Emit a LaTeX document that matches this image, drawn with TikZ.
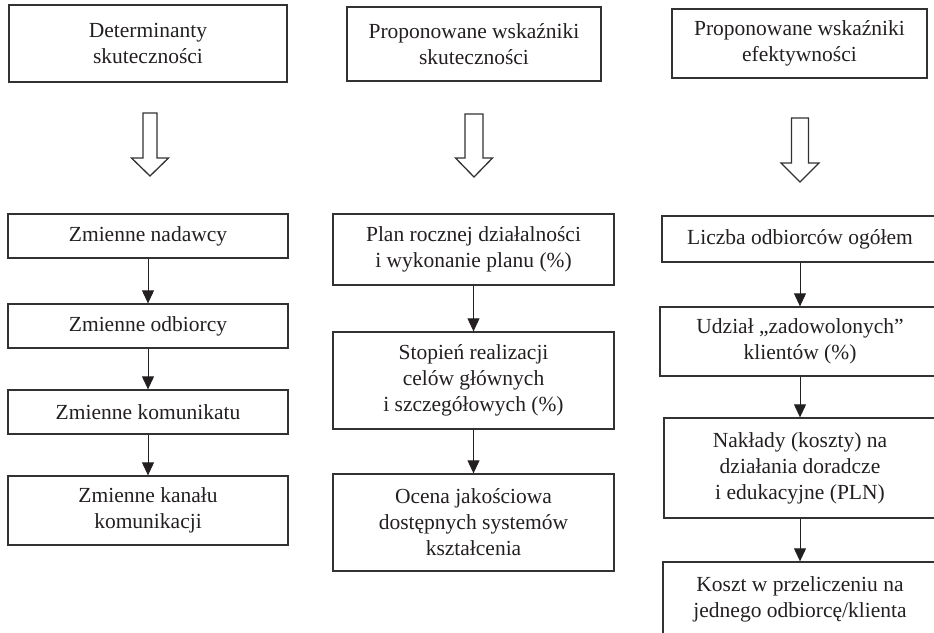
\documentclass[tikz,border=0pt]{standalone}
\usepackage{fontspec}
\setmainfont{Liberation Serif}
\usetikzlibrary{arrows.meta}
\definecolor{ink}{RGB}{35,31,32}
\definecolor{edge}{RGB}{50,50,50}
\newcommand{\hollowarr}[6]{%
  \draw[hollow] (#1-#3,#2) -- (#1+#3,#2) -- (#1+#3,#4) -- (#1+#5,#4) -- (#1,#6) -- (#1-#5,#4) -- (#1-#3,#4) -- cycle;}
\begin{document}
\begin{tikzpicture}[x=1pt,y=-1pt,
  box/.style={draw=edge, line width=1.3pt, rectangle, inner sep=0pt, align=center,
    text=ink, font=\fontsize{21.5}{26}\selectfont},
  link/.style={draw=ink, line width=0.9pt, -{Triangle[width=12pt,length=13pt]}},
  hollow/.style={draw=edge, line width=1.3pt, fill=white, line join=miter}]
\useasboundingbox (0,0) rectangle (934,632);
\clip (0,0) rectangle (934,632);
% left column
\node[box, minimum width=278pt, minimum height=77pt] (lt) at (148,43.5) {Determinanty\\skuteczności};
\node[box, minimum width=280pt, minimum height=44pt] (l1) at (148,236) {Zmienne nadawcy};
\node[box, minimum width=280pt, minimum height=44pt] (l2) at (148,326) {Zmienne odbiorcy};
\node[box, minimum width=280pt, minimum height=44pt] (l3) at (148,412) {Zmienne komunikatu};
\node[box, minimum width=280pt, minimum height=69pt] (l4) at (148,510.5) {Zmienne kanału\\komunikacji};
\draw[link] (l1) -- (l2);
\draw[link] (l2) -- (l3);
\draw[link] (l3) -- (l4);
% middle column
\node[box, minimum width=254pt, minimum height=74pt] (mt) at (474,44) {Proponowane wskaźniki\\skuteczności};
\node[box, minimum width=281pt, minimum height=71pt] (m1) at (473.5,249.5) {Plan rocznej działalności\\i wykonanie planu (\%)};
\node[box, minimum width=281pt, minimum height=97pt] (m2) at (473.5,380.5) {Stopień realizacji\\celów głównych\\ i szczegółowych (\%)};
\node[box, minimum width=281pt, minimum height=97pt] (m3) at (473.5,522.5) {Ocena jakościowa\\dostępnych systemów\\kształcenia};
\draw[link] (m1) -- (m2);
\draw[link] (m2) -- (m3);
% right column
\node[box, minimum width=255pt, minimum height=69pt] (rt) at (799.5,43.5) {Proponowane wskaźniki\\efektywności};
\node[box, minimum width=276pt, minimum height=46pt] (r1) at (800,239) {Liczba odbiorców ogółem};
\node[box, minimum width=280pt, minimum height=69pt] (r2) at (800,341.5) {Udział „zadowolonych”\\klientów (\%)};
\node[box, minimum width=272pt, minimum height=100pt] (r3) at (800,468) {Nakłady (koszty) na\\działania doradcze\\ i edukacyjne (PLN)};
\node[box, minimum width=274pt, minimum height=74pt] (r4) at (800,599) {Koszt w przeliczeniu na\\jednego odbiorcę/klienta};
\draw[link] (r1) -- (r2);
\draw[link] (r2) -- (r3);
\draw[link] (r3) -- (r4);
% hollow arrows
\hollowarr{150}{113}{7}{158}{18.5}{176}
\hollowarr{474}{114}{9}{158}{18.5}{177}
\hollowarr{800}{118}{8.5}{163}{19}{182}
\end{tikzpicture}
\end{document}
